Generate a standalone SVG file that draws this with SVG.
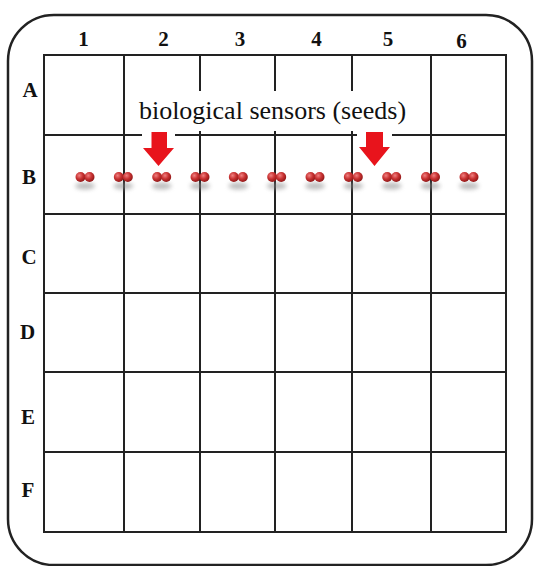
<svg xmlns="http://www.w3.org/2000/svg" width="534" height="566" viewBox="0 0 534 566">
<style>
.grid{stroke:#222;stroke-width:2;fill:none}
.lbl{font-family:"Liberation Serif","Times New Roman",serif;font-weight:bold;font-size:21px;fill:#111;text-anchor:middle}
.cap{font-family:"Liberation Serif","Times New Roman",serif;font-weight:normal;font-size:26px;fill:#111}
.arrow{fill:#e8141c}
</style>
<defs>
<radialGradient id="sg" cx="0.38" cy="0.35" r="0.7">
<stop offset="0" stop-color="#f08080"/>
<stop offset="0.5" stop-color="#c83232"/>
<stop offset="1" stop-color="#8a1414"/>
</radialGradient>
<filter id="blur" x="-50%" y="-100%" width="200%" height="300%"><feGaussianBlur stdDeviation="2"/></filter>
<g id="seed">
<ellipse cx="0" cy="9" rx="10" ry="3.5" fill="#888" opacity="0.55" filter="url(#blur)"/>
<circle cx="-4.5" cy="0" r="5" fill="url(#sg)"/>
<circle cx="4.5" cy="0" r="5" fill="url(#sg)"/>
</g>
</defs>
<rect width="534" height="566" fill="#fff"/>
<rect x="8" y="15" width="524" height="550" rx="46" ry="46" fill="none" stroke="#222" stroke-width="2.5"/>
<g id="grid" class="grid">
<rect x="44" y="55" width="462" height="477"/>
<line x1="124" y1="55" x2="124" y2="532"/>
<line x1="200" y1="55" x2="200" y2="532"/>
<line x1="275" y1="55" x2="275" y2="532"/>
<line x1="352" y1="55" x2="352" y2="532"/>
<line x1="431" y1="55" x2="431" y2="532"/>
<line x1="44" y1="135" x2="506" y2="135"/>
<line x1="44" y1="214" x2="506" y2="214"/>
<line x1="44" y1="293" x2="506" y2="293"/>
<line x1="44" y1="372" x2="506" y2="372"/>
<line x1="44" y1="452" x2="506" y2="452"/>
</g>
<g id="col-labels" class="lbl">
<text x="83.5" y="46">1</text>
<text x="163.5" y="46">2</text>
<text x="240" y="46">3</text>
<text x="316.5" y="46">4</text>
<text x="388" y="46">5</text>
<text x="461.5" y="48">6</text>
</g>
<g id="row-labels" class="lbl">
<text x="30" y="97">A</text>
<text x="29" y="184">B</text>
<text x="29" y="264">C</text>
<text x="27.5" y="339">D</text>
<text x="28" y="424">E</text>
<text x="28" y="497">F</text>
</g>
<g id="caption">
<rect x="126" y="91" width="303" height="40" fill="#fff"/>
<text class="cap" x="272.5" y="118.5" text-anchor="middle">biological sensors (seeds)</text>
</g>
<g id="arrow-2">
<rect x="142" y="130" width="33" height="38" fill="#fff"/>
<polygon class="arrow" points="151.5,132 167,132 167,148 174,148 158.5,166 143,148 151.5,148"/>
</g>
<g id="arrow-5">
<rect x="357" y="130" width="35" height="38" fill="#fff"/>
<polygon class="arrow" points="366,132 383,132 383,147 390,147 374.5,166 359,147 366,147"/>
</g>
<g id="seeds">
<use href="#seed" x="85" y="177"/>
<use href="#seed" x="123.3" y="177"/>
<use href="#seed" x="161.7" y="177"/>
<use href="#seed" x="200" y="177"/>
<use href="#seed" x="238.3" y="177"/>
<use href="#seed" x="276.7" y="177"/>
<use href="#seed" x="315" y="177"/>
<use href="#seed" x="353.3" y="177"/>
<use href="#seed" x="391.7" y="177"/>
<use href="#seed" x="430.5" y="177"/>
<use href="#seed" x="469" y="177"/>
</g>
</svg>
